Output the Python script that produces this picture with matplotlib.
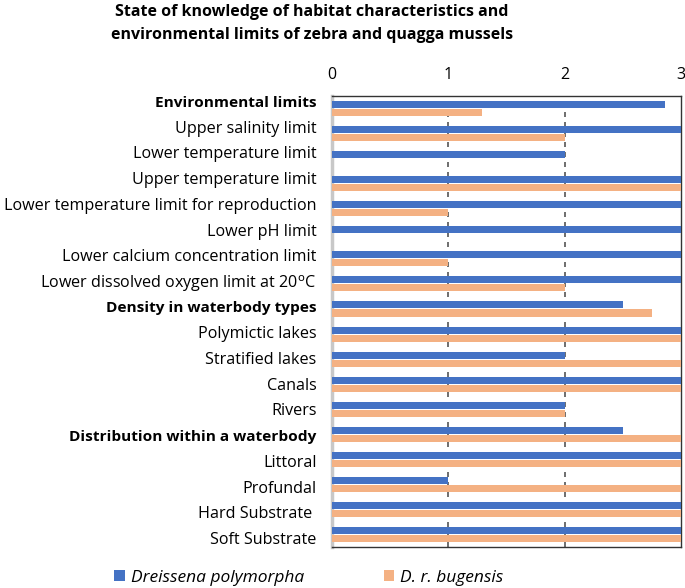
import numpy as np
import matplotlib.pyplot as plt

## categories, top to bottom
labels = ["Environmental limits", "Upper salinity limit", "Lower temperature limit",
          "Upper temperature limit", "Lower temperature limit for reproduction",
          "Lower pH limit", "Lower calcium concentration limit",
          "Lower dissolved oxygen limit at 20$^{\\mathrm{o}}$C",
          "Density in waterbody types", "Polymictic lakes", "Stratified lakes",
          "Canals", "Rivers", "Distribution within a waterbody", "Littoral",
          "Profundal", "Hard Substrate ", "Soft Substrate"]
headers = ["Environmental limits", "Density in waterbody types",
           "Distribution within a waterbody"]

## knowledge scores
polymorpha = [2.86, 3, 2, 3, 3, 3, 3, 3, 2.5, 3, 2, 3, 2, 2.5, 3, 1, 3, 3]
bugensis = [1.29, 2, 0, 3, 1, 0, 1, 2, 2.75, 3, 3, 3, 2, 3, 3, 3, 3, 3]

blue = "#4472C4"
orange = "#F4B183"

plt.rcParams['font.family'] = ['Open Sans', 'DejaVu Sans']

fig = plt.figure(figsize=(6.85, 5.88), dpi=100)
ax = fig.add_axes([0.4847, 0.0697, 0.5095, 0.767])

y = np.arange(len(labels))
h = 0.28
ax.barh(y - 0.16, polymorpha, height=h, color=blue, label="Dreissena polymorpha", zorder=3)
ax.barh(y + 0.16, bugensis, height=h, color=orange, label="D. r. bugensis", zorder=3)

ax.set_xlim(0, 3)
ax.set_ylim(len(labels) - 0.5, -0.5)
ax.set_xticks([0, 1, 2, 3])
ax.xaxis.tick_top()
ax.tick_params(axis='x', length=0, labelsize=11.5, pad=9.5)
# labels drift slightly against the bars, like the original
ax.set_yticks(-0.30 + 1.0257 * y)
ax.set_yticklabels(labels, fontsize=11.6)
ax.tick_params(axis='y', length=0, pad=11)
for t in ax.get_yticklabels():
    if t.get_text() in headers:
        t.set_fontweight('bold')
        t.set_fontsize(11.1)

for xv in [1, 2]:
    ax.axvline(xv, color='#555555', linestyle=(0, (3, 3)), linewidth=1.2, zorder=2)

for s in ['top', 'bottom', 'right']:
    ax.spines[s].set_color('#333333')
    ax.spines[s].set_linewidth(1.0)
ax.spines['left'].set_color('#c8c8c8')
ax.spines['left'].set_linewidth(2.5)

fig.suptitle("State of knowledge of habitat characteristics and\nenvironmental limits of zebra and quagga mussels",
             fontsize=11.5, fontweight='bold', x=0.455, y=0.993, linespacing=1.6)

leg = fig.legend(loc='center', bbox_to_anchor=(0.451, 0.017), ncol=2, frameon=False,
                 handlelength=0.6, handleheight=0.6, handletextpad=0.35, columnspacing=4.6,
                 prop={'style': 'italic', 'size': 12.5})

plt.savefig("out.png", dpi=100)
